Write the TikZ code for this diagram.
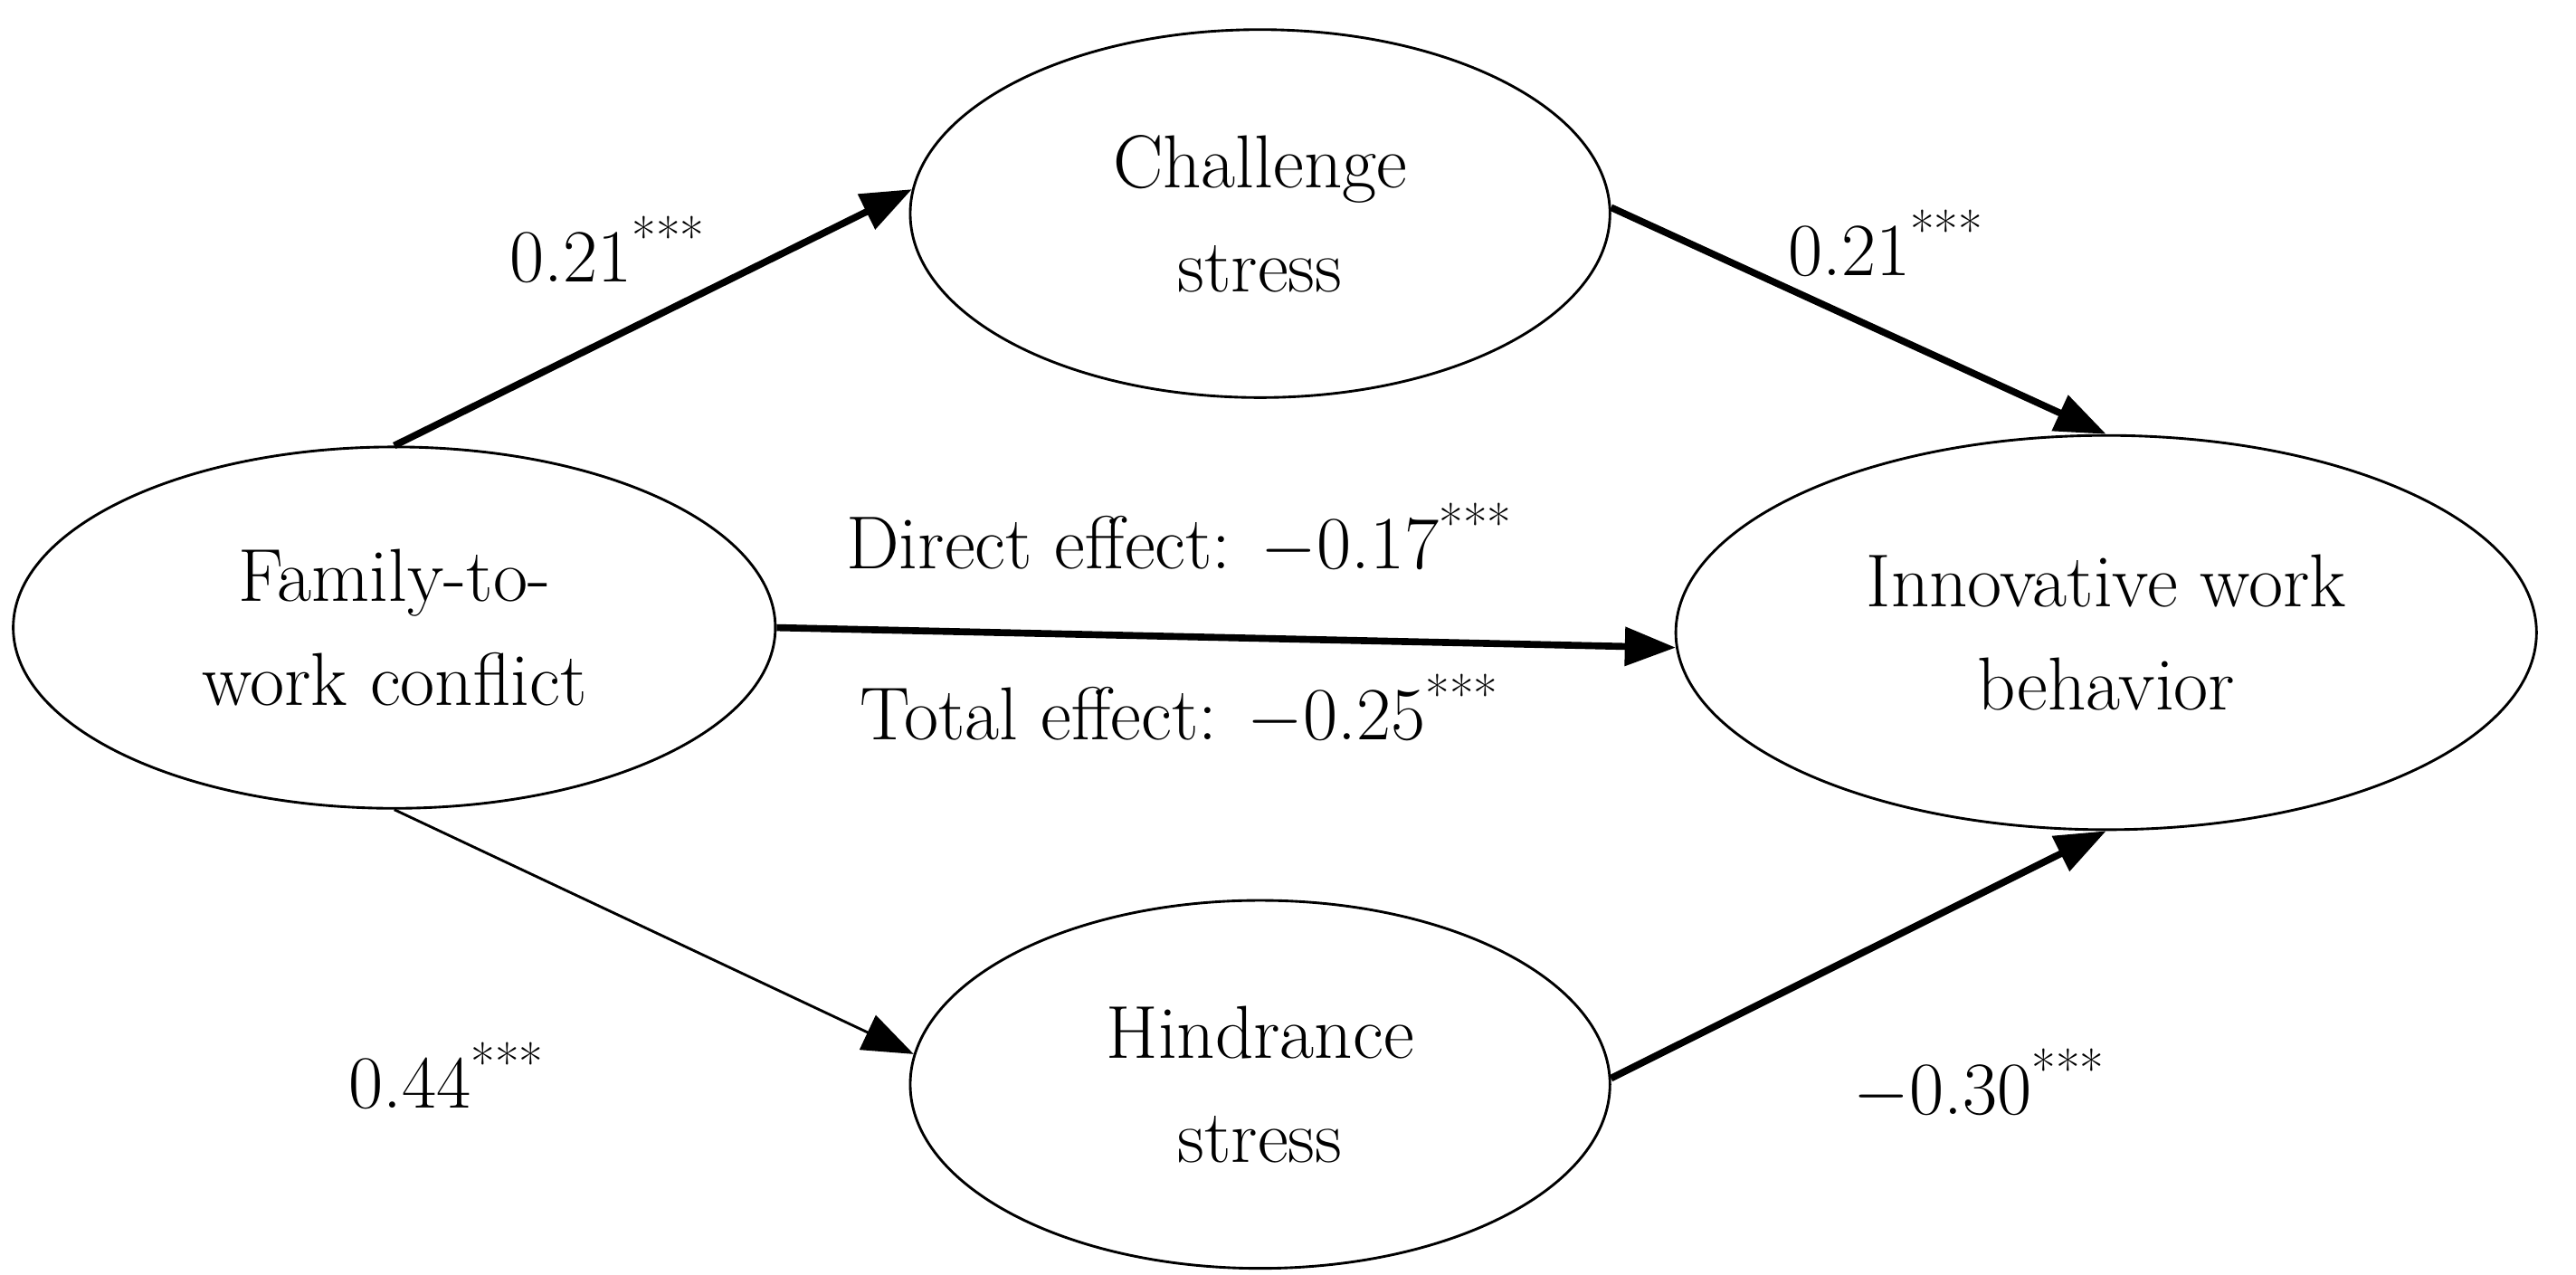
\documentclass[tikz,border=0pt]{standalone}
\usetikzlibrary{shapes.geometric,arrows.meta}
\begin{document}
\begin{tikzpicture}[x=0.02cm,y=-0.02cm,
  ell/.style={draw,ellipse,inner sep=0pt,line width=0.9pt,align=center,font=\fontsize{26}{36}\selectfont},
  lab/.style={font=\fontsize{26}{32}\selectfont,inner sep=0pt},
  thickarr/.style={line width=2.4pt,-{Triangle[length=0.62cm,width=0.46cm]}},
  thinarr/.style={line width=0.9pt,-{Triangle[length=0.62cm,width=0.46cm]}}]
\useasboundingbox (0,0) rectangle (1568,776);
\node[ell,minimum width=9.28cm,minimum height=4.4cm] (fam) at (240,382) {Family-to-\\work conflict};
\node[ell,minimum width=8.52cm,minimum height=4.48cm] (chal) at (767,130) {Challenge\\stress};
\node[ell,minimum width=8.52cm,minimum height=4.48cm] (hin) at (767,660) {Hindrance\\stress};
\node[ell,minimum width=10.48cm,minimum height=4.8cm] (inn) at (1282,385) {Innovative work\\behavior};
\draw[thickarr] (fam.north) -- (chal.176);
\draw[thickarr] (chal.1) -- (inn.north);
\draw[thickarr] (fam.east) -- (inn.182);
\draw[thinarr] (fam.south) -- (hin.175);
\draw[thickarr] (hin.1) -- (inn.south);
\node[lab] (l1) at (370,152) {0.21\textsuperscript{***}};
\node[lab] (l2) at (1148,148) {0.21\textsuperscript{***}};
\node[lab] (l3) at (718,328) {Direct effect: $-$0.17\textsuperscript{***}};
\node[lab] (l4) at (718,432) {Total effect: $-$0.25\textsuperscript{***}};
\node[lab] (l5) at (272,655) {0.44\textsuperscript{***}};
\node[lab] (l6) at (1205,660) {$-$0.30\textsuperscript{***}};
\end{tikzpicture}
\end{document}
